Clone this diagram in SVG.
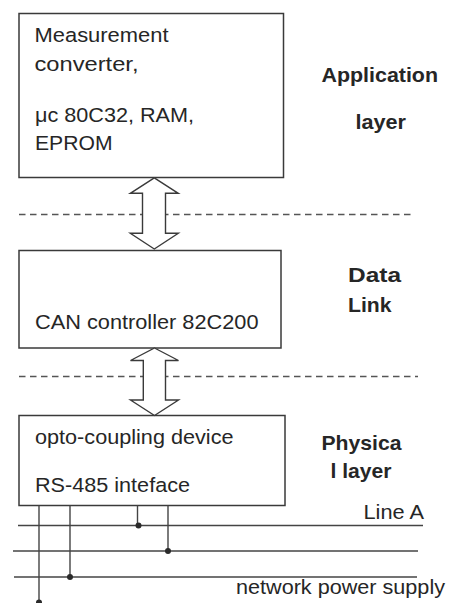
<svg xmlns="http://www.w3.org/2000/svg" width="453" height="603" viewBox="0 0 453 603">
<style>
.box{fill:#fff;stroke:#3a3a3a;stroke-width:1.5}
.t{font-family:"Liberation Sans",Arial,sans-serif;font-size:20.5px;fill:#262626}
.b{font-family:"Liberation Sans",Arial,sans-serif;font-size:20.5px;font-weight:bold;fill:#262626}
.dash{stroke:#555;stroke-width:1.3;stroke-dasharray:6.5 4.5;fill:none}
.ln{stroke:#444;stroke-width:1.4;fill:none}
.arr{fill:#fff;stroke:#3a3a3a;stroke-width:1.4;stroke-linejoin:miter}
.dot{fill:#2a2a2a}
</style>
<rect width="453" height="603" fill="#fff"/>
<g id="layers">
<line class="dash" x1="19" y1="214.5" x2="413" y2="214.5"/>
<line class="dash" x1="19" y1="376.5" x2="418" y2="376.5"/>
<text class="b" x="321.5" y="81.5" textLength="116.5" lengthAdjust="spacingAndGlyphs">Application</text>
<text class="b" x="355.5" y="128.5" textLength="50.5" lengthAdjust="spacingAndGlyphs">layer</text>
<text class="b" x="348" y="281.5" textLength="53" lengthAdjust="spacingAndGlyphs">Data</text>
<text class="b" x="348" y="311.5" textLength="43.5" lengthAdjust="spacingAndGlyphs">Link</text>
<text class="b" x="321.5" y="450" textLength="80" lengthAdjust="spacingAndGlyphs">Physica</text>
<text class="b" x="330.5" y="478" textLength="61" lengthAdjust="spacingAndGlyphs">l layer</text>
</g>
<g id="node-application">
<rect class="box" x="19" y="13.5" width="264.5" height="164"/>
<text class="t" x="34.5" y="41.5" textLength="134" lengthAdjust="spacingAndGlyphs">Measurement</text>
<text class="t" x="34.5" y="71" textLength="104" lengthAdjust="spacingAndGlyphs">converter,</text>
<text class="t" x="35" y="121.5" textLength="159" lengthAdjust="spacingAndGlyphs">μc 80C32, RAM,</text>
<text class="t" x="35" y="150" textLength="77.5" lengthAdjust="spacingAndGlyphs">EPROM</text>
</g>
<g id="node-datalink">
<rect class="box" x="19" y="250.5" width="262" height="97.5"/>
<text class="t" x="35" y="328.5" textLength="223.5" lengthAdjust="spacingAndGlyphs">CAN controller 82C200</text>
</g>
<g id="node-physical">
<rect class="box" x="19" y="415.5" width="266" height="90"/>
<text class="t" x="35" y="443.5" textLength="198.5" lengthAdjust="spacingAndGlyphs">opto-coupling device</text>
<text class="t" x="35" y="491.5" textLength="155" lengthAdjust="spacingAndGlyphs">RS-485 inteface</text>
</g>
<g id="connectors">
<polygon class="arr" points="154.3,177.8 178.3,193.3 165.5,193.3 165.5,233.3 178.3,233.3 154.3,249 130.3,233.3 142.5,233.3 142.5,193.3 130.3,193.3"/>
<polygon class="arr" points="154.5,348 178.5,360.5 165.5,360.5 165.5,400 178.5,400 154.5,415.5 130.5,400 143.3,400 143.3,360.5 130.5,360.5"/>
<line class="ln" x1="18" y1="525.5" x2="423" y2="525.5"/>
<line class="ln" x1="13" y1="551" x2="418" y2="551"/>
<line class="ln" x1="14" y1="577" x2="417" y2="577"/>
<line class="ln" x1="39" y1="505.5" x2="39" y2="603"/>
<line class="ln" x1="70" y1="505.5" x2="70" y2="577"/>
<line class="ln" x1="137.5" y1="505.5" x2="137.5" y2="525.5"/>
<line class="ln" x1="168" y1="505.5" x2="168" y2="551"/>
<circle class="dot" cx="39" cy="602.5" r="3"/>
<circle class="dot" cx="70" cy="577" r="3"/>
<circle class="dot" cx="138.5" cy="525.5" r="3"/>
<circle class="dot" cx="168" cy="551" r="3"/>
<text class="t" x="363.5" y="518.5" textLength="60.5" lengthAdjust="spacingAndGlyphs">Line A</text>
<text class="t" x="236" y="594" textLength="209" lengthAdjust="spacingAndGlyphs">network power supply</text>
</g>
</svg>
